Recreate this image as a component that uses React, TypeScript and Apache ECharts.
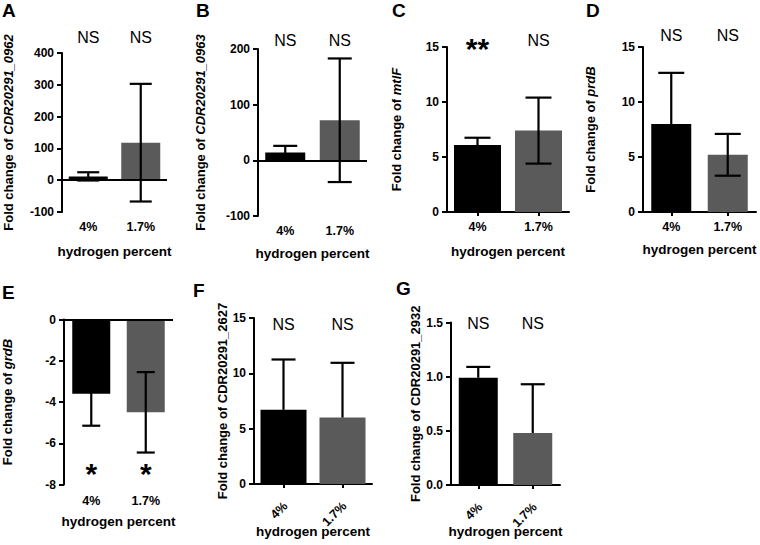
import React, { useEffect, useRef } from 'react';
import * as echarts from 'echarts';

const FONT = '"Liberation Sans", Arial, Helvetica, sans-serif';
const BLACK = '#000000';
const GREY = '#5a5a5a';

// ---- data ----
const categories = ['4%', '1.7%'];

const meanA = [12, 118];
const sdA = [13, 185];
const sigA = ['NS', 'NS'];

const meanB = [14, 72];
const sdB = [12, 111];
const sigB = ['NS', 'NS'];

const meanC = [6.1, 7.4];
const sdC = [0.65, 3.0];
const sigC = ['**', 'NS'];

const meanD = [8.0, 5.2];
const sdD = [4.65, 1.9];
const sigD = ['NS', 'NS'];

const meanE = [-3.6, -4.5];
const sdE = [1.55, 1.95];
const sigE = ['*', '*'];

const meanF = [6.7, 6.0];
const sdF = [4.55, 4.95];
const sigF = ['NS', 'NS'];

const meanG = [0.99, 0.48];
const sdG = [0.1, 0.45];
const sigG = ['NS', 'NS'];

const xTitle = 'hydrogen percent';
const yPrefix = 'Fold change of ';

type Panel = {
  letter: string; lx: number; ly: number;
  gene: string; italic: boolean;
  mean: number[]; sd: number[]; sig: string[]; sigAt: 'max' | 'min'; sigDy: number;
  yMin: number; yMax: number; step: number; dec: number;
  upOnly: boolean; zeroLine: boolean;
  left: number; top: number; width: number; height: number;
  barW: number; cap: number; nameGap: number; catMargin: number; xNameGap: number; rot: boolean;
};

const panels: Panel[] = [
  { letter: 'A', lx: 2, ly: 1, gene: 'CDR20291_0962', italic: true, mean: meanA, sd: sdA, sig: sigA, sigAt: 'max', sigDy: -16,
    yMin: -100, yMax: 400, step: 100, dec: 0, upOnly: false, zeroLine: true,
    left: 62, top: 53, width: 105, height: 159, barW: 39, cap: 11, nameGap: 47, catMargin: 8, xNameGap: 32, rot: false },
  { letter: 'B', lx: 196, ly: 1, gene: 'CDR20291_0963', italic: true, mean: meanB, sd: sdB, sig: sigB, sigAt: 'max', sigDy: -9,
    yMin: -100, yMax: 200, step: 100, dec: 0, upOnly: false, zeroLine: true,
    left: 258, top: 49, width: 109, height: 167, barW: 40, cap: 12, nameGap: 51, catMargin: 8, xNameGap: 30, rot: false },
  { letter: 'C', lx: 392, ly: 1, gene: 'mtlF', italic: true, mean: meanC, sd: sdC, sig: sigC, sigAt: 'max', sigDy: -7,
    yMin: 0, yMax: 15, step: 5, dec: 0, upOnly: false, zeroLine: false,
    left: 447, top: 47, width: 122, height: 165, barW: 47, cap: 13, nameGap: 44, catMargin: 8, xNameGap: 32, rot: false },
  { letter: 'D', lx: 586, ly: 1, gene: 'prdB', italic: true, mean: meanD, sd: sdD, sig: sigD, sigAt: 'max', sigDy: -12,
    yMin: 0, yMax: 15, step: 5, dec: 0, upOnly: false, zeroLine: false,
    left: 643, top: 47, width: 113, height: 165, barW: 40, cap: 13, nameGap: 46, catMargin: 8, xNameGap: 30, rot: false },
  { letter: 'E', lx: 2, ly: 283, gene: 'grdB', italic: true, mean: meanE, sd: sdE, sig: sigE, sigAt: 'min', sigDy: -19,
    yMin: -8, yMax: 0, step: 2, dec: 0, upOnly: false, zeroLine: true,
    left: 63, top: 319.5, width: 110, height: 165, barW: 38, cap: 9, nameGap: 50, catMargin: 10, xNameGap: 30, rot: false },
  { letter: 'F', lx: 193, ly: 281, gene: 'CDR20291_2627', italic: false, mean: meanF, sd: sdF, sig: sigF, sigAt: 'max', sigDy: 6,
    yMin: 0, yMax: 15, step: 5, dec: 0, upOnly: true, zeroLine: false,
    left: 254, top: 318, width: 118, height: 166, barW: 46, cap: 12, nameGap: 21, catMargin: 20, xNameGap: 40, rot: true },
  { letter: 'G', lx: 396, ly: 279, gene: 'CDR20291_2932', italic: false, mean: meanG, sd: sdG, sig: sigG, sigAt: 'max', sigDy: 1,
    yMin: 0, yMax: 1.5, step: 0.5, dec: 1, upOnly: true, zeroLine: false,
    left: 451, top: 322.5, width: 109, height: 162.5, barW: 39, cap: 12, nameGap: 28, catMargin: 20, xNameGap: 39, rot: true },
];

function buildOption() {
  const grid: any[] = [];
  const xAxis: any[] = [];
  const yAxis: any[] = [];
  const series: any[] = [];
  const graphic: any[] = [];

  panels.forEach((p, k) => {
    grid.push({ left: p.left, top: p.top, width: p.width, height: p.height, containLabel: false });
    xAxis.push({
      type: 'category', gridIndex: k, data: categories,
      axisLine: { show: !p.zeroLine, onZero: false, lineStyle: { color: BLACK, width: 2 } },
      axisTick: { show: !p.zeroLine, alignWithLabel: true, length: 4, lineStyle: { color: BLACK, width: 2 } },
      axisLabel: { show: !p.rot, interval: 0, color: BLACK, fontFamily: FONT, fontWeight: 'bold', fontSize: 12.5, margin: p.catMargin },
      name: xTitle, nameLocation: 'middle', nameGap: p.xNameGap,
      nameTextStyle: { color: BLACK, fontFamily: FONT, fontWeight: 'bold', fontSize: 13.5 },
      splitLine: { show: false },
    });
    yAxis.push({
      type: 'value', gridIndex: k, min: p.yMin, max: p.yMax, interval: p.step,
      axisLine: { show: true, onZero: false, lineStyle: { color: BLACK, width: 2 } },
      axisTick: { show: true, length: 5, lineStyle: { color: BLACK, width: 2 } },
      axisLabel: {
        color: BLACK, fontFamily: FONT, fontWeight: 'bold', fontSize: 12, margin: 8,
        formatter: (v: number) => v.toFixed(p.dec),
      },
      splitLine: { show: false },
      name: p.italic ? yPrefix + '{i|' + p.gene + '}' : yPrefix + p.gene,
      nameLocation: 'middle', nameRotate: 90, nameGap: p.nameGap,
      nameTextStyle: {
        color: BLACK, fontFamily: FONT, fontWeight: 'bold', fontSize: 13,
        rich: { i: { color: BLACK, fontFamily: FONT, fontWeight: 'bold', fontStyle: 'italic', fontSize: 13 } },
      },
    });

    series.push({
      type: 'bar', xAxisIndex: k, yAxisIndex: k, barWidth: p.barW, z: 2,
      data: p.mean.map((v, i) => ({ value: v, itemStyle: { color: i === 0 ? BLACK : GREY } })),
      markLine: p.zeroLine ? {
        silent: true, symbol: ['none', 'none'], label: { show: false },
        lineStyle: { color: BLACK, width: 2, type: 'solid' },
        data: [{ yAxis: 0 }],
      } : undefined,
    });

    // error bars
    series.push({
      type: 'custom', xAxisIndex: k, yAxisIndex: k, z: 5,
      data: p.mean.map((m, i) => [i, m, p.upOnly ? m : m - p.sd[i], m + p.sd[i]]),
      renderItem: (params: any, api: any) => {
        const i = api.value(0);
        const m = api.value(1);
        const lo = api.value(2);
        const hi = api.value(3);
        const t = api.coord([i, hi]);
        const b = api.coord([i, lo]);
        const x = t[0];
        const style = { stroke: BLACK, lineWidth: 2.2, fill: 'none' };
        const children: any[] = [
          { type: 'line', shape: { x1: x, y1: t[1], x2: x, y2: b[1] }, style },
          { type: 'line', shape: { x1: x - p.cap, y1: t[1], x2: x + p.cap, y2: t[1] }, style },
        ];
        if (lo !== m) {
          children.push({ type: 'line', shape: { x1: x - p.cap, y1: b[1], x2: x + p.cap, y2: b[1] }, style });
        }
        return { type: 'group', children };
      },
    });

    // significance labels
    series.push({
      type: 'custom', xAxisIndex: k, yAxisIndex: k, z: 6,
      data: p.sig.map((s, i) => [i, p.sigAt === 'max' ? p.yMax : p.yMin]),
      renderItem: (params: any, api: any) => {
        const c = api.coord([api.value(0), api.value(1)]);
        const txt = p.sig[params.dataIndex];
        const star = txt.indexOf('*') >= 0;
        return {
          type: 'text', x: c[0], y: c[1] + p.sigDy + (star ? 8 : 0),
          style: {
            text: txt, fill: BLACK,
            font: star ? `bold 30px ${FONT}` : `16px ${FONT}`,
            align: 'center', verticalAlign: 'middle',
          },
        };
      },
    });

    // rotated category labels (F, G)
    if (p.rot) {
      series.push({
        type: 'custom', xAxisIndex: k, yAxisIndex: k, z: 6,
        data: categories.map((c, i) => [i, p.yMin]),
        renderItem: (params: any, api: any) => {
          const c = api.coord([api.value(0), api.value(1)]);
          return {
            type: 'text', x: c[0] + 2, y: c[1] + p.catMargin, rotation: Math.PI / 4,
            style: {
              text: categories[params.dataIndex], fill: BLACK,
              font: `bold 12.5px ${FONT}`, align: 'right', verticalAlign: 'middle',
            },
          };
        },
      });
    }

    graphic.push({
      type: 'text', left: p.lx, top: p.ly,
      style: { text: p.letter, fill: BLACK, font: `bold 19px ${FONT}` },
    });
  });

  return {
    animation: false,
    backgroundColor: '#ffffff',
    grid, xAxis, yAxis, series, graphic,
  };
}

export default function App() {
  const ref = useRef<HTMLDivElement>(null);
  useEffect(() => {
    if (!ref.current) return;
    const chart = echarts.init(ref.current, undefined, { renderer: 'svg' });
    chart.setOption(buildOption() as any);
    return () => chart.dispose();
  }, []);
  return (
    <div
      ref={ref}
      style={{ position: 'absolute', left: 0, top: 0, width: 760, height: 545, background: '#fff' }}
    />
  );
}
